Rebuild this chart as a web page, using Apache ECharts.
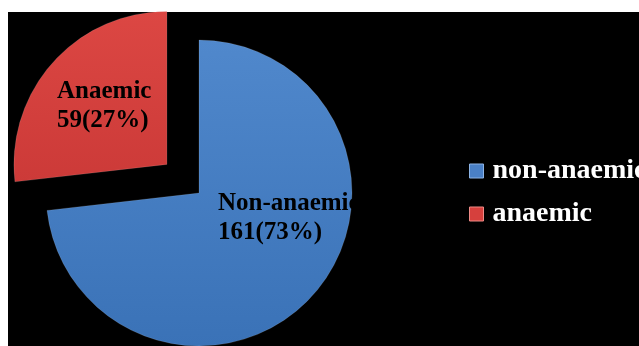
<!DOCTYPE html>
<html>
<head>
<meta charset="utf-8">
<script src="https://cdn.jsdelivr.net/npm/echarts@6/dist/echarts.min.js"></script>
<style>
html,body{margin:0;padding:0;background:#fff;}
#chart{width:639px;height:346px;}
</style>
</head>
<body>
<div id="chart"></div>
<script>
var categories = ['non-anaemic', 'anaemic'];
var labelNames = ['Non-anaemic', 'Anaemic'];
var values = [161, 59];
var percents = ['73%', '27%'];
var colors = ['#4a80c6', '#d6403d'];

var chart = echarts.init(document.getElementById('chart'), null, {renderer: 'canvas'});

var serif = '"Liberation Serif", "Times New Roman", serif';

var gradients = [
  new echarts.graphic.LinearGradient(0, 0, 0, 1, [
    {offset: 0, color: '#5088cc'},
    {offset: 1, color: '#3a72b7'}
  ]),
  new echarts.graphic.LinearGradient(0, 0, 0, 1, [
    {offset: 0, color: '#dc4743'},
    {offset: 1, color: '#cc3a38'}
  ])
];

// pie geometry
var cx = 199, cy = 193, R = 153, explode = 43;
var total = values.reduce(function (a, b) { return a + b; }, 0);
var before = values[0];
var midFrac = (before + values[1] / 2) / total;
var midAng = midFrac * 2 * Math.PI; // clockwise from top
var cx2 = cx + Math.sin(midAng) * explode;
var cy2 = cy - Math.cos(midAng) * explode;

var labelPos = [
  {x: 218, y: 218},
  {x: 57, y: 106}
];

function buildData(visibleIndex) {
  return categories.map(function (c, i) {
    var vis = i === visibleIndex;
    return {
      name: c,
      value: values[i],
      itemStyle: vis ? {color: gradients[i], borderColor: 'rgba(255,255,255,0.12)', borderWidth: 1}
                     : {color: 'rgba(0,0,0,0)', borderWidth: 0},
      label: {
        show: vis,
        formatter: labelNames[i] + '\n' + values[i] + '(' + percents[i] + ')'
      }
    };
  });
}

function pieSeries(center, visibleIndex) {
  return {
    type: 'pie',
    center: center,
    radius: [0, R],
    startAngle: 90,
    clockwise: true,
    selectedMode: false,
    avoidLabelOverlap: false,
    emphasis: {disabled: true},
    label: {
      position: 'inside',
      color: '#000000',
      fontFamily: serif,
      fontWeight: 'bold',
      fontSize: 25,
      lineHeight: 29,
      align: 'left'
    },
    labelLine: {show: false},
    labelLayout: function (params) {
      var p = labelPos[params.dataIndex];
      return {x: p.x, y: p.y, align: 'left', verticalAlign: 'middle'};
    },
    data: buildData(visibleIndex)
  };
}

chart.setOption({
  backgroundColor: '#ffffff',
  animation: false,
  graphic: [{
    type: 'rect',
    z: -10,
    shape: {x: 8, y: 12, width: 631, height: 334},
    style: {fill: '#000000'}
  }],
  legend: {
    orient: 'vertical',
    left: 469,
    top: 156,
    padding: 0,
    itemWidth: 14,
    itemHeight: 14,
    itemGap: 13,
    icon: 'rect',
    selectedMode: false,
    data: categories.map(function (c, i) {
      return {name: c, itemStyle: {color: colors[i], borderColor: i === 0 ? '#8db4e6' : '#ee8a86', borderWidth: 1}};
    }),
    textStyle: {
      color: '#ffffff',
      fontFamily: serif,
      fontWeight: 'bold',
      fontSize: 28,
      lineHeight: 30,
      padding: [0, 0, 0, 4]
    }
  },
  series: [
    pieSeries([cx, cy], 0),
    pieSeries([cx2, cy2], 1)
  ]
});
</script>
</body>
</html>
